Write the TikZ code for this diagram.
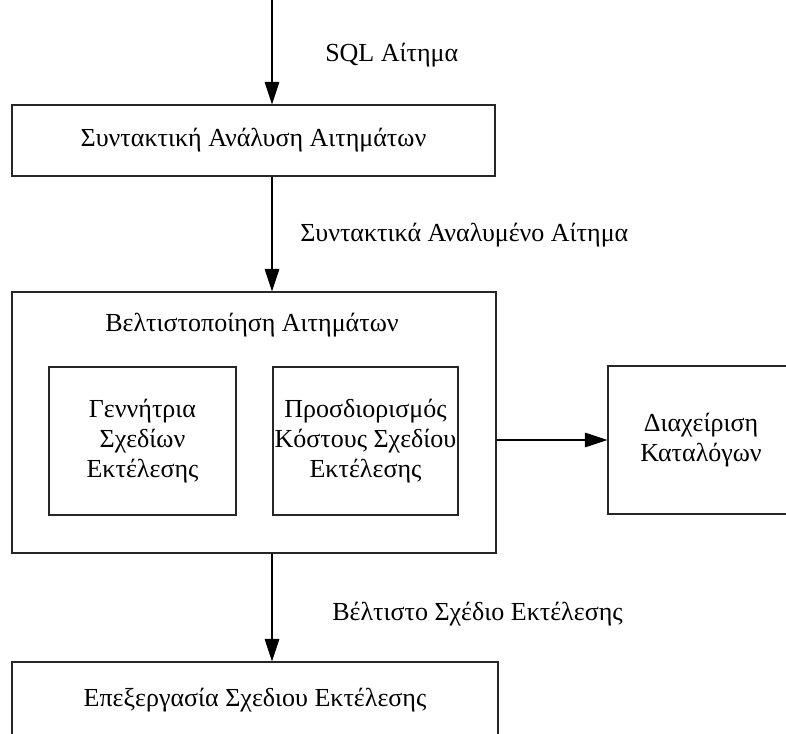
\documentclass[tikz,border=0pt]{standalone}
\usepackage{fontspec}
\setmainfont{Liberation Serif}
\usetikzlibrary{arrows.meta}
\begin{document}
\begin{tikzpicture}[x=0.75pt,y=-0.75pt,
  box/.style={draw=black!85, line width=0.8pt, inner sep=0pt, align=center},
  arr/.style={draw=black, line width=0.8pt, -{Triangle[length=17pt,width=11pt]}},
  lbl/.style={inner sep=0pt},
  font=\fontsize{19.5}{22.5}\selectfont]
\clip (0,0) rectangle (786,734);
\node[box, minimum width={483*0.75pt}, minimum height={71*0.75pt}] (b1) at (253.5,140.5) {Συντακτική Ανάλυση Αιτημάτων};
\node[box, minimum width={484*0.75pt}, minimum height={261*0.75pt}] (b2) at (254,422.5) {};
\node[lbl] (t2) at (252,325) {Βελτιστοποίηση Αιτημάτων};
\node[box, minimum width={187*0.75pt}, minimum height={148*0.75pt}] (ga) at (142.5,441) {Γεννήτρια\\Σχεδίων\\Εκτέλεσης};
\node[box, minimum width={185*0.75pt}, minimum height={148*0.75pt}] (gb) at (365.5,441) {Προσδιορισμός\\Κόστους Σχεδίου\\Εκτέλεσης};
\node[box, minimum width={186*0.75pt}, minimum height={148*0.75pt}] (cat) at (701,440) {Διαχείριση\\Καταλόγων};
\node[box, minimum width={486*0.75pt}, minimum height={76*0.75pt}] (b3) at (255,700) {Επεξεργασία Σχεδιου Εκτέλεσης};
\coordinate (in) at (272,0);
\node[lbl, anchor=west] (l1) at (325,55) {SQL Αίτημα};
\node[lbl, anchor=west] (l2) at (300,235) {Συντακτικά Αναλυμένο Αίτημα};
\node[lbl, anchor=west] (l3) at (332,614) {Βέλτιστο Σχέδιο Εκτέλεσης};
\draw[arr] (in) -- (in |- b1.north);
\draw[arr] (b1.south -| in) -- (b2.north -| in);
\draw[arr] (b2.south -| in) -- (b3.north -| in);
\draw[arr] (b2.east |- cat.west) -- (cat.west);
\end{tikzpicture}
\end{document}
